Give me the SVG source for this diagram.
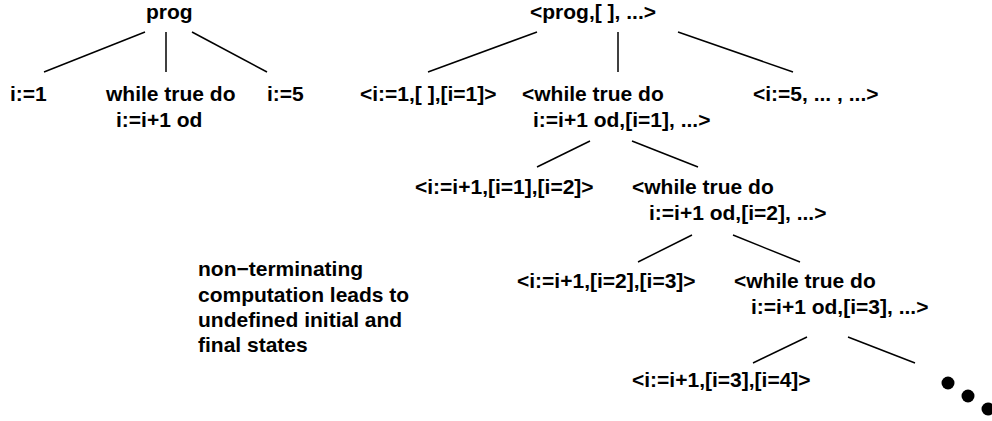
<svg xmlns="http://www.w3.org/2000/svg" width="992" height="421" viewBox="0 0 992 421">
<style>
text{font-family:"Liberation Sans",Arial,Helvetica,sans-serif;font-weight:bold;font-size:21px;fill:#000}
.c line{stroke:#000;stroke-width:1.5}
</style>
<rect width="992" height="421" fill="#fff"/>
<g id="connectors" class="c">
<line x1="145" y1="32" x2="44" y2="72"/>
<line x1="166" y1="32" x2="166" y2="72"/>
<line x1="192" y1="32" x2="267" y2="72"/>
<line x1="537" y1="32" x2="428" y2="72"/>
<line x1="618" y1="32" x2="618" y2="72"/>
<line x1="678" y1="32" x2="793" y2="72"/>
<line x1="590" y1="141" x2="537" y2="167"/>
<line x1="632" y1="141" x2="698" y2="167"/>
<line x1="692" y1="235" x2="638" y2="262"/>
<line x1="733" y1="235" x2="800" y2="262"/>
<line x1="807" y1="337" x2="753" y2="363"/>
<line x1="848" y1="337" x2="915" y2="363"/>
</g>
<g id="prog"><text x="146" y="19">prog</text></g>
<g id="s1"><text x="10" y="101">i:=1</text></g>
<g id="s2"><text x="106" y="101">while true do</text><text x="116" y="127">i:=i+1 od</text></g>
<g id="s3"><text x="267" y="101">i:=5</text></g>
<g id="cprog"><text x="530" y="19">&lt;prog,[ ], ...&gt;</text></g>
<g id="c1"><text x="360" y="101">&lt;i:=1,[ ],[i=1]&gt;</text></g>
<g id="c2"><text x="522" y="101">&lt;while true do</text><text x="533" y="127">i:=i+1 od,[i=1], ...&gt;</text></g>
<g id="c3"><text x="753" y="101">&lt;i:=5, ... , ...&gt;</text></g>
<g id="c21"><text x="415" y="194">&lt;i:=i+1,[i=1],[i=2]&gt;</text></g>
<g id="c22"><text x="632" y="194">&lt;while true do</text><text x="649" y="220">i:=i+1 od,[i=2], ...&gt;</text></g>
<g id="c31"><text x="517" y="288">&lt;i:=i+1,[i=2],[i=3]&gt;</text></g>
<g id="c32"><text x="734" y="288">&lt;while true do</text><text x="751" y="314">i:=i+1 od,[i=3], ...&gt;</text></g>
<g id="c41"><text x="632" y="387">&lt;i:=i+1,[i=3],[i=4]&gt;</text></g>
<g id="dots"><circle cx="948" cy="383" r="6.5"/><circle cx="968" cy="396" r="6.5"/><circle cx="988" cy="409" r="6.5"/></g>
<g id="note">
<text x="198" y="276">non−terminating</text>
<text x="198" y="302">computation leads to</text>
<text x="198" y="327">undefined initial and</text>
<text x="198" y="352">final states</text>
</g>
</svg>
